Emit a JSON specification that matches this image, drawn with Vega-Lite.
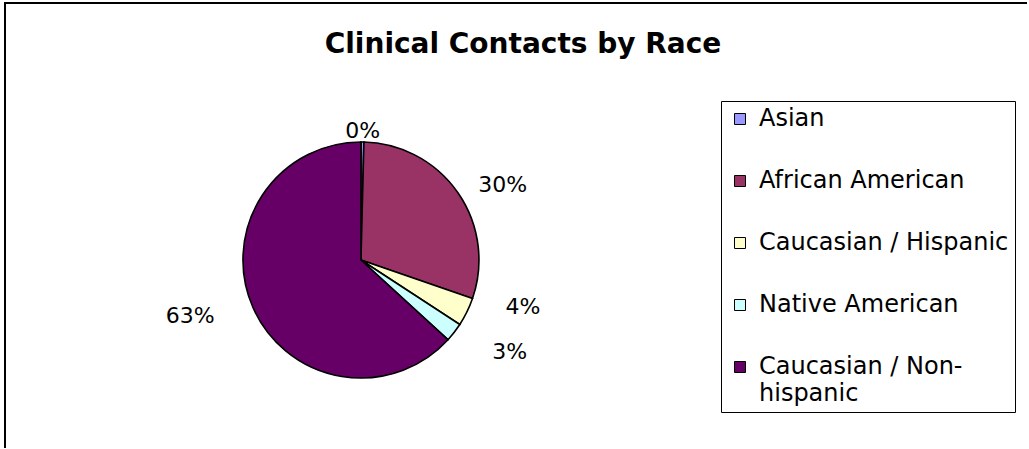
{
  "$schema": "https://vega.github.io/schema/vega-lite/v6.json",
  "width": 1022,
  "height": 445,
  "padding": {"left": 5, "top": 3, "right": 0, "bottom": 0},
  "background": "white",
  "view": {"stroke": "black", "strokeWidth": 2, "fill": "white", "strokeDash": [1022, 1467, 445], "strokeDashOffset": 0},
  "title": {
    "text": "Clinical Contacts by Race",
    "font": "DejaVu Sans",
    "fontSize": 28,
    "fontWeight": "bold",
    "color": "black",
    "anchor": "middle",
    "dx": 7,
    "offset": -56
  },
  "config": {
    "font": "DejaVu Sans",
    "view": {"stroke": "black", "strokeWidth": 2, "strokeDash": [1022, 1467, 445], "strokeDashOffset": 0},
    "style": {"guide-label": {"lineHeight": 27}}
  },
  "data": {
    "values": [
      {"race": "Asian", "share": 0.4, "label": "0%", "k": 1},
      {"race": "African American", "share": 29.9, "label": "30%", "k": 2},
      {"race": "Caucasian / Hispanic", "share": 3.9, "label": "4%", "k": 3},
      {"race": "Native American", "share": 2.6, "label": "3%", "k": 4},
      {"race": "Caucasian / Non-hispanic", "share": 63.2, "label": "63%", "k": 5}
    ]
  },
  "encoding": {
    "theta": {"field": "share", "type": "quantitative", "stack": true},
    "order": {"field": "k", "type": "quantitative"}
  },
  "layer": [
    {
      "mark": {"type": "arc", "outerRadius": 118, "stroke": "black", "strokeWidth": 1.6, "x": {"expr": "width * 0.3483"}, "y": {"expr": "height * 0.5775"}},
      "encoding": {
        "color": {
          "field": "race",
          "type": "nominal",
          "scale": {
            "domain": ["Asian", "African American", "Caucasian / Hispanic", "Native American", "Caucasian / Non-hispanic"],
            "range": ["#9999FF", "#993366", "#FFFFCC", "#CCFFFF", "#660066"]
          },
          "legend": {
            "orient": "none",
            "legendX": 716,
            "legendY": 98,
            "title": null,
            "strokeColor": "black",
            "padding": 6,
            "symbolOffset": 1,
            "symbolType": "square",
            "symbolSize": 121,
            "symbolStrokeColor": "black",
            "symbolStrokeWidth": 1,
            "labelFont": "DejaVu Sans",
            "labelFontSize": 24,
            "labelColor": "black",
            "labelOffset": 7,
            "labelLimit": 400,
            "rowPadding": 38,
            "labelExpr": "datum.label == 'Caucasian / Non-hispanic' ? ['Caucasian / Non-', 'hispanic'] : datum.label"
          }
        }
      }
    },
    {
      "mark": {"type": "text", "radius": 129, "font": "DejaVu Sans", "fontSize": 22, "color": "black", "x": {"expr": "width * 0.3483"}, "y": {"expr": "height * 0.5775"}},
      "encoding": {"text": {"condition": {"test": "datum.race == 'Asian'", "field": "label"}, "value": ""}}
    },
    {
      "mark": {"type": "text", "radius": 158, "dx": 12, "dy": 15, "font": "DejaVu Sans", "fontSize": 22, "color": "black", "x": {"expr": "width * 0.3483"}, "y": {"expr": "height * 0.5775"}},
      "encoding": {"text": {"condition": {"test": "datum.race == 'African American'", "field": "label"}, "value": ""}}
    },
    {
      "mark": {"type": "text", "radius": 166, "dx": 13, "dy": -26, "font": "DejaVu Sans", "fontSize": 22, "color": "black", "x": {"expr": "width * 0.3483"}, "y": {"expr": "height * 0.5775"}},
      "encoding": {"text": {"condition": {"test": "datum.race == 'Caucasian / Hispanic'", "field": "label"}, "value": ""}}
    },
    {
      "mark": {"type": "text", "radius": 173, "dx": 12, "dy": -14, "font": "DejaVu Sans", "fontSize": 22, "color": "black", "x": {"expr": "width * 0.3483"}, "y": {"expr": "height * 0.5775"}},
      "encoding": {"text": {"condition": {"test": "datum.race == 'Native American'", "field": "label"}, "value": ""}}
    },
    {
      "mark": {"type": "text", "radius": 179, "dx": -7, "dy": -16, "font": "DejaVu Sans", "fontSize": 22, "color": "black", "x": {"expr": "width * 0.3483"}, "y": {"expr": "height * 0.5775"}},
      "encoding": {"text": {"condition": {"test": "datum.race == 'Caucasian / Non-hispanic'", "field": "label"}, "value": ""}}
    }
  ]
}
